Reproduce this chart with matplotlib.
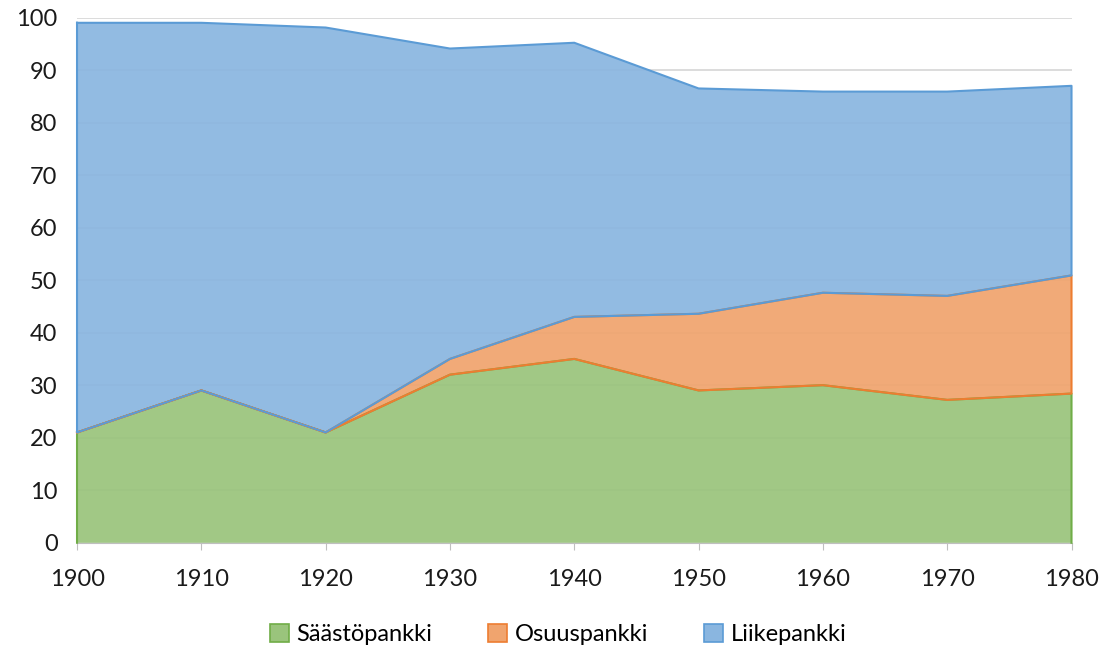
import numpy as np
import matplotlib.pyplot as plt

plt.rcParams['font.family'] = ['Lato', 'DejaVu Sans']

vuodet = [1900, 1910, 1920, 1930, 1940, 1950, 1960, 1970, 1980]
saastopankki = [21, 29, 21, 32, 35, 29, 30, 27.2, 28.4]
osuuspankki = [0, 0, 0, 3, 8, 14.6, 17.6, 19.8, 22.5]
liikepankki = [78, 70, 77.1, 59.1, 52.2, 42.9, 38.3, 38.9, 36.1]

nimet = ['Säästöpankki', 'Osuuspankki', 'Liikepankki']
reunat = ['#70AD47', '#ED7D31', '#5B9BD5']
taytot = ['#9AC47C', '#F0A46E', '#8AB6E0']

fig = plt.figure(figsize=(11.05, 6.5), dpi=100)
ax = fig.add_axes([0.0697, 0.165, 0.9, 0.808])

ax.set_axisbelow(True)
ax.yaxis.grid(True, color='#D9D9D9', linewidth=1.3, zorder=0)

sarjat = [saastopankki, osuuspankki, liikepankki]
pohja = np.zeros(len(vuodet))
for i, (arvot, nimi, reuna, tayto) in enumerate(zip(sarjat, nimet, reunat, taytot)):
    ylin = pohja + np.array(arvot)
    ax.fill_between(vuodet, pohja, ylin, facecolor=tayto, alpha=0.93,
                    edgecolor='none', label=nimi, zorder=2)
    # koko alueen ääriviiva, myöhempi sarja piirtyy päälle
    xs = list(vuodet) + list(vuodet[::-1]) + [vuodet[0]]
    ys = list(ylin) + list(pohja[::-1]) + [ylin[0]]
    if i == 0:
        xs = [vuodet[0]] + list(vuodet) + [vuodet[-1]]
        ys = [0] + list(ylin) + [0]
    ax.plot(xs, ys, color=reuna, linewidth=1.5, zorder=3 + i, clip_on=False)
    pohja = ylin

ax.set_xlim(1900, 1980)
ax.set_ylim(0, 100)
ax.set_xticks(vuodet)
ax.set_yticks(range(0, 101, 10))
ax.tick_params(axis='both', labelsize=17, colors='#1a1a1a')
ax.tick_params(axis='y', length=0, pad=14)
ax.tick_params(axis='x', length=5, color='#BFBFBF', pad=14)
for s in ['top', 'right', 'left']:
    ax.spines[s].set_visible(False)
ax.spines['bottom'].set_color('#BFBFBF')
ax.spines['bottom'].set_zorder(1)

kahvat = [plt.Rectangle((0, 0), 1, 1, facecolor=t, edgecolor=r, linewidth=1.2)
          for t, r in zip(taytot, reunat)]
fig.legend(kahvat, nimet, loc='lower center', bbox_to_anchor=(0.505, -0.025), ncol=3,
           frameon=False, fontsize=17, handlelength=0.8, handleheight=0.8,
           handletextpad=0.3, columnspacing=2.4)

fig.savefig('out.png', dpi=100)
